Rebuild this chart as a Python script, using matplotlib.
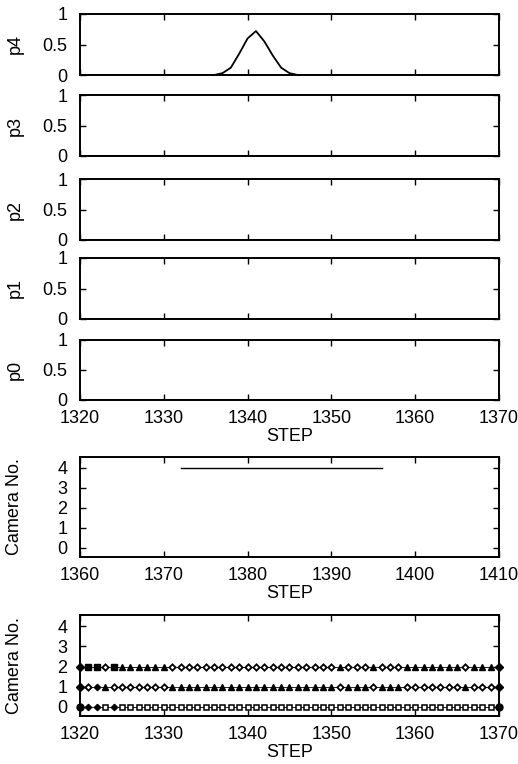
import numpy as np
import matplotlib.pyplot as plt

plt.rcParams['font.family'] = ['Liberation Sans', 'DejaVu Sans']
plt.rcParams['font.size'] = 13

# probabilities p4..p0 over steps 1320..1370
steps = np.arange(1320, 1371)
p4_steps = [1336, 1337, 1338, 1339, 1340, 1341, 1342, 1343, 1344, 1345, 1346]
p4_vals = [0.0, 0.03, 0.12, 0.35, 0.6, 0.72, 0.55, 0.32, 0.12, 0.03, 0.0]
p_names = ['p4', 'p3', 'p2', 'p1', 'p0']
p_ticks = [0, 0.5, 1]
p_ticklabels = ['0', '0.5', '1']

# camera selection, second window
cam_steps = [1372, 1396]
cam_vals = [4, 4]

# camera states per step (1320..1370) for cameras 0, 1, 2
# E end mark, S filled square, D open diamond, T triangle, F small filled diamond,
# Q open square, B big filled dot
cam2_codes = ("ESSDS" + "TTTTTT" + "DDDDDDDDDDDDDDDDDDDD" + "T" + "DDD" + "T"
              + "DDD" + "TTTTTTT" + "D" + "TTT" + "E")
cam1_codes = ("EDFT" + "DDDDDDD" + "TTTTTTTTTTTTTTTTTTTT" + "D" + "TTT" + "D"
              + "TTT" + "DDDDDDD" + "T" + "DDD" + "E")
cam0_codes = ("BFFQF" + "QQQQQQQQQQQQQQQQQQQQQQQQQQQQQQQQQQQQQQQQQQQQQ" + "B")
cam_codes = {0: cam0_codes, 1: cam1_codes, 2: cam2_codes}

styles = {
    'E': dict(marker='D', ms=4.0, mfc='black', mec='black'),
    'S': dict(marker='s', ms=4.2, mfc='black', mec='black'),
    'D': dict(marker='D', ms=3.2, mfc='white', mec='black', mew=1.3),
    'T': dict(marker='^', ms=4.3, mfc='black', mec='black'),
    'F': dict(marker='D', ms=3.2, mfc='black', mec='black'),
    'Q': dict(marker='s', ms=3.6, mfc='white', mec='black', mew=1.1),
    'B': dict(marker='o', ms=5.0, mfc='black', mec='black'),
}

fig = plt.figure(figsize=(5.18, 7.64), dpi=100)
W, H = 518.0, 764.0
left = 80 / W
width = 419 / W


def make_ax(top, bottom):
    ax = fig.add_axes([left, 1 - bottom / H, width, (bottom - top) / H])
    ax.tick_params(direction='in', top=True, right=True, length=4, width=1,
                   pad=7)
    ax.tick_params(axis='y', pad=9)
    for s in ax.spines.values():
        s.set_linewidth(1.4)
    return ax


p_boxes = [(14, 75), (95, 156), (179, 240), (258, 319), (340, 400)]
for i, (name, (t, b)) in enumerate(zip(p_names, p_boxes)):
    ax = make_ax(t, b)
    vals = np.zeros(len(steps))
    if name == 'p4':
        for s, v in zip(p4_steps, p4_vals):
            vals[s - 1320] = v
    ax.plot(steps, vals, color='black', lw=1.3)
    ax.set_xlim(1320, 1370)
    ax.set_ylim(0, 1)
    ax.set_yticks(p_ticks)
    ax.set_yticklabels(p_ticklabels)
    ax.set_xticks(np.arange(1320, 1371, 10))
    ax.set_ylabel(name)
    ax.yaxis.set_label_coords(-0.135, 0.5)
    if name != 'p0':
        ax.set_xticklabels([])
    else:
        ax.set_xlabel('STEP', labelpad=1)

# camera plot, steps 1360..1410
ax = make_ax(457, 557)
ax.plot(cam_steps, cam_vals, color='black', lw=1.0)
ax.set_xlim(1360, 1410)
ax.set_ylim(-0.45, 4.55)
ax.set_yticks(range(5))
ax.set_xticks(np.arange(1360, 1411, 10))
ax.set_xlabel('STEP', labelpad=1)
ax.set_ylabel('Camera No.')
ax.yaxis.set_label_coords(-0.135, 0.5)

# camera plot, steps 1320..1370 with state markers
ax = make_ax(615, 716)
for cam, codes in cam_codes.items():
    ax.plot(steps, [cam] * len(steps), color='black', lw=0.6)
    for s, c in zip(steps, codes):
        ax.plot([s], [cam], ls='none', clip_on=False, **styles[c])
ax.set_xlim(1320, 1370)
ax.set_ylim(-0.45, 4.55)
ax.set_yticks(range(5))
ax.set_xticks(np.arange(1320, 1371, 10))
ax.set_xlabel('STEP', labelpad=1)
ax.set_ylabel('Camera No.')
ax.yaxis.set_label_coords(-0.135, 0.5)

fig.savefig('out.png', dpi=100)
